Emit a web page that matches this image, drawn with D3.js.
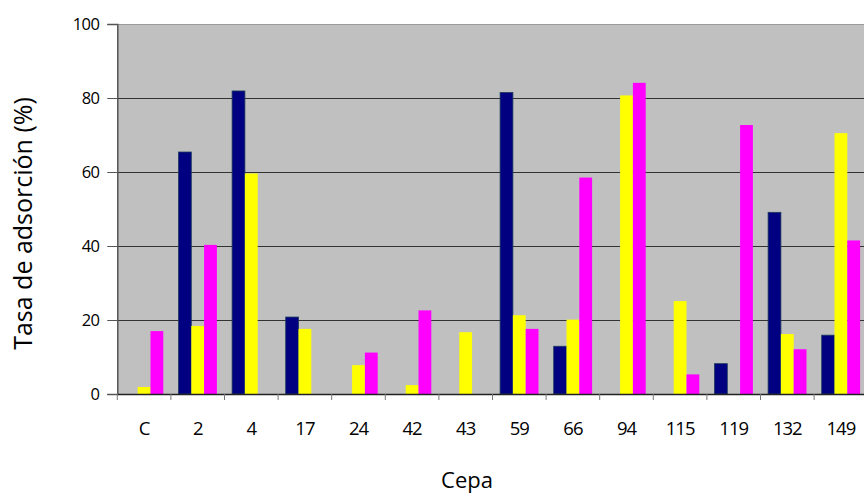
<!DOCTYPE html>
<html>
<head>
<meta charset="utf-8">
<script src="https://cdn.jsdelivr.net/npm/d3@7"></script>
<style>
  html, body { margin: 0; padding: 0; background: #fff; overflow: hidden; }
  svg { display: block; }
  text { font-family: "Open Sans", sans-serif; fill: #000; }
</style>
</head>
<body>
<svg id="chart" width="864" height="494"></svg>
<script>
const categories = ["C", "2", "4", "17", "24", "42", "43", "59", "66", "94", "115", "119", "132", "149"];
const seriesNames = ["s1", "s2", "s3"];
const seriesColors = ["#000080", "#FFFF00", "#FF00FF"];
const s1 = [0, 65.4, 81.9, 20.8, 0, 0, 0, 81.5, 12.9, 0, 0, 8.2, 49.1, 15.9];
const s2 = [1.9, 18.4, 59.6, 17.6, 7.8, 2.4, 16.7, 21.3, 20.1, 80.7, 25.1, 0, 16.2, 70.5];
const s3 = [17.0, 40.3, 0, 0, 11.2, 22.6, 0, 17.6, 58.5, 84.1, 5.3, 72.7, 12.1, 41.5];
const yTicks = [0, 20, 40, 60, 80, 100];

const seriesValues = [s1, s2, s3];
const svg = d3.select("#chart");

const mLeft = 117.3, mTop = 24, mBottom = 394;
const step = 53.6;
const mRight = mLeft + step * categories.length;

const x0 = d3.scaleBand().domain(categories).range([mLeft, mRight]).padding(0);
const groupGap = 15.2;
const x1 = d3.scaleBand().domain(seriesNames).range([groupGap / 2, step - groupGap / 2]).padding(0);
const y = d3.scaleLinear().domain([0, 100]).range([mBottom, mTop]);

// plot background
svg.append("rect")
  .attr("x", mLeft).attr("y", mTop)
  .attr("width", mRight - mLeft).attr("height", mBottom - mTop)
  .attr("fill", "#C0C0C0");

// gridlines
svg.append("g").selectAll("line")
  .data(yTicks.filter(d => d > 0))
  .join("line")
  .attr("x1", mLeft).attr("x2", mRight)
  .attr("y1", d => Math.round(y(d)) + 0.5).attr("y2", d => Math.round(y(d)) + 0.5)
  .attr("stroke", d => d === 100 ? "#9a9a9a" : "#333")
  .attr("stroke-width", 1.2);

// bars
const rows = categories.map((c, i) => ({ c, vals: seriesValues.map((s, k) => ({ k, v: s[i] })) }));
const g = svg.append("g").selectAll("g")
  .data(rows)
  .join("g")
  .attr("transform", d => `translate(${x0(d.c)},0)`);
g.selectAll("rect")
  .data(d => d.vals.filter(v => v.v > 0))
  .join("rect")
  .attr("x", d => x1(seriesNames[d.k]))
  .attr("width", x1.bandwidth())
  .attr("y", d => y(d.v))
  .attr("height", d => y(0) - y(d.v))
  .attr("fill", d => seriesColors[d.k])
  .attr("stroke", d => d.k === 0 ? "#1a3a5c" : "none")
  .attr("stroke-width", d => d.k === 0 ? 0.8 : 0);

// y axis
const yAxis = d3.axisLeft(y).tickValues(yTicks).tickSize(10).tickPadding(8).tickFormat(d3.format("d"));
const ya = svg.append("g").attr("transform", `translate(${mLeft},0)`).call(yAxis);
ya.select(".domain").attr("stroke", "#555").attr("stroke-width", 1.5);
ya.selectAll(".tick line").attr("stroke", "#555");
ya.selectAll(".tick text")
  .style("font-family", "'Open Sans', sans-serif")
  .style("font-size", "16.5px")
  .style("letter-spacing", "-0.6px")
  .attr("fill", "#000");

// x axis
const xAxis = d3.axisBottom(x0).tickSize(0).tickPadding(28);
const xa = svg.append("g").attr("transform", `translate(0,${mBottom})`).call(xAxis);
xa.select(".domain").attr("stroke", "#222").attr("stroke-width", 1.5);
xa.selectAll(".tick text")
  .style("font-family", "'Open Sans', sans-serif")
  .style("font-size", "18.5px")
  .style("letter-spacing", "-1px")
  .attr("fill", "#000");
// boundary ticks
svg.append("g").selectAll("line")
  .data(categories.map((c, i) => i).concat([categories.length]))
  .join("line")
  .attr("x1", i => mLeft + i * x0.step()).attr("x2", i => mLeft + i * x0.step())
  .attr("y1", mBottom).attr("y2", mBottom + 6)
  .attr("stroke", "#777").attr("stroke-width", 1);

// axis titles
svg.append("text")
  .attr("transform", "translate(32,223.5) rotate(-90)")
  .attr("text-anchor", "middle")
  .style("font-size", "25px")
  .text("Tasa de adsorción (%)");

svg.append("text")
  .attr("x", 467).attr("y", 488)
  .attr("text-anchor", "middle")
  .style("font-size", "22px")
  .text("Cepa");
</script>
</body>
</html>
